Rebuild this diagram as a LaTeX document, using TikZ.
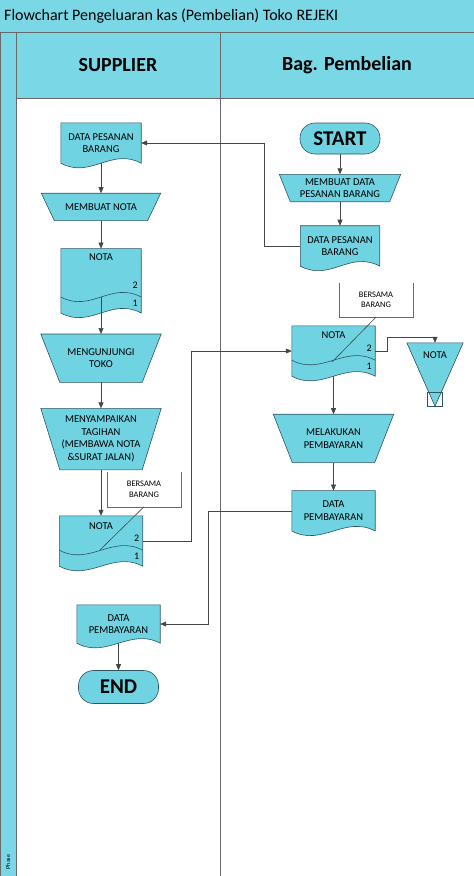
\documentclass[tikz,border=0pt]{standalone}
\usepackage{fontspec}
\setmainfont{Carlito}
\usetikzlibrary{positioning,calc,arrows.meta}
\pgfdeclarelayer{background}
\pgfsetlayers{background,main}

\definecolor{sianfill}{RGB}{112,211,226}
\definecolor{sianhead}{RGB}{122,216,230}
\definecolor{garis}{RGB}{45,85,100}
\definecolor{panah}{RGB}{70,70,70}
\definecolor{bingkai}{RGB}{105,105,105}

% dokumen dengan tepi bawah bergelombang
\newcommand{\dokumen}[1]{%
  \begin{pgfonlayer}{background}
    \filldraw[bentuk] (#1.north west) -- (#1.north east) -- (#1.south east)
      .. controls +(-30pt,16pt) and +(30pt,-16pt) .. (#1.south west) -- cycle;
  \end{pgfonlayer}}
% dokumen rangkap (2 lembar)
\newcommand{\dokganda}[1]{%
  \dokumen{#1}
  \draw[bentuk, fill=none] ($(#1.south west)+(0,16pt)$)
    .. controls +(30pt,-16pt) and +(-30pt,16pt) .. ($(#1.south east)+(0,16pt)$);
  \node[angka] (#1-2) at ($(#1.south east)+(-6pt,28pt)$) {2};
  \node[angka] (#1-1) at ($(#1.south east)+(-6pt,10pt)$) {1};}
% operasi manual
\newcommand{\opmanual}[2]{%
  \begin{pgfonlayer}{background}
    \filldraw[bentuk] (#1.north west) -- (#1.north east)
      -- ($(#1.south east)+(-#2pt,0)$) -- ($(#1.south west)+(#2pt,0)$) -- cycle;
  \end{pgfonlayer}}
% arsip (segitiga)
\newcommand{\arsip}[1]{%
  \filldraw[bentuk] (#1.north west) -- (#1.north east) -- (#1.south) -- cycle;
  \draw[bentuk, fill=none] ($(#1.south)+(-7.5pt,0)$) rectangle ($(#1.south)+(7.5pt,14pt)$);}
% keterangan (kurung terbuka)
\newcommand{\catatan}[1]{%
  \draw[bingkai] (#1.north west) -- (#1.south west) -- (#1.south east) -- (#1.north east);}

\begin{document}
\begin{tikzpicture}[x=1pt, y=-1pt,
    bentuk/.style={draw=garis, fill=sianfill, line width=0.6pt},
    teks/.style={font=\fontsize{10.5}{12.5}\selectfont, align=center, inner sep=0pt},
    dok/.style={teks, minimum width=80pt, minimum height=40pt},
    manop/.style={teks, minimum width=120pt, minimum height=48pt},
    terminal/.style={rectangle, rounded corners=15pt, draw=garis, fill=sianfill, line width=0.6pt,
      minimum width=80pt, minimum height=31pt, inner sep=0pt, font=\bfseries\fontsize{21}{24}\selectfont},
    angka/.style={font=\fontsize{10}{11}\selectfont, inner sep=0pt},
    ket/.style={font=\fontsize{8.5}{10.5}\selectfont, align=center, minimum width=74pt,
      minimum height=34pt, inner sep=0pt},
    panahgaris/.style={draw=panah, line width=0.6pt, -{Triangle[length=6pt,width=5pt]}},
    garisbiasa/.style={draw=panah, line width=0.6pt}]

\useasboundingbox (0,0) rectangle (474,876);

% bingkai dan judul
\fill[sianhead] (0,0) rectangle (474,32);
\filldraw[fill=sianhead, draw=bingkai] (0,32) rectangle (16,876);
\filldraw[fill=sianhead, draw=bingkai] (16,32) rectangle (474,98);
\draw[bingkai] (220,32) -- (220,876);
\node[anchor=west, inner sep=0pt, font=\fontsize{16}{18}\selectfont] (judul) at (4,16)
  {Flowchart Pengeluaran kas (Pembelian) Toko REJEKI};
\node[font=\bfseries\fontsize{20}{22}\selectfont] (supplier) at (118,65) {SUPPLIER};
\node[font=\bfseries\fontsize{20}{22}\selectfont] (pembelian) at (347,65) {Bag. Pembelian};
\node[rotate=90, font=\fontsize{6}{7}\selectfont, inner sep=0pt] (fase) at (8,862) {Phase};

% jalur supplier
\node[dok] (dpb1) at (101,143) {DATA PESANAN\\BARANG};
\node[manop, minimum width=119pt, minimum height=27pt, below=30pt of dpb1] (buatnota) {MEMBUAT NOTA};
\node[dok, minimum height=64pt, below=28pt of buatnota] (nota1) {};
\node[teks, below=5pt of nota1.north] (nota1t) {NOTA};
\node[manop, below=21pt of nota1] (kunjung) {MENGUNJUNGI\\TOKO};
\node[manop, minimum height=61pt, below=26pt of kunjung] (tagih)
  {MENYAMPAIKAN\\TAGIHAN\\(MEMBAWA NOTA\\\&SURAT JALAN)};
\node[dok, minimum width=83pt, minimum height=50pt, below=46pt of tagih] (nota2) {};
\node[teks, below=7pt of nota2.north] (nota2t) {NOTA};
\node[ket] (ket1) at (144,489.5) {BERSAMA\\BARANG};
\node[dok, minimum width=83pt, minimum height=38pt] (dpem1) at (118.5,624) {DATA\\PEMBAYARAN};
\node[terminal, minimum height=33pt, below=27pt of dpem1] (akhir) {END};

% jalur bag. pembelian
\node[terminal] (mulai) at (340,138.5) {START};
\node[manop, minimum width=121pt, minimum height=27pt, below=20pt of mulai] (buatdata)
  {MEMBUAT DATA\\PESANAN BARANG};
\node[dok, minimum width=79pt, below=24pt of buatdata] (dpb2) {DATA PESANAN\\BARANG};
\node[ket] (ket2) at (376,300) {BERSAMA\\BARANG};
\node[dok, minimum width=83pt, minimum height=50pt] (nota3) at (333.5,351) {};
\node[teks, below=6pt of nota3.north] (nota3t) {NOTA};
\node[teks, minimum width=56pt, minimum height=63pt] (simpan) at (435,374.5) {};
\node[teks, below=9pt of simpan.north] (simpant) {NOTA};
\node[manop, below=38pt of nota3] (bayar) {MELAKUKAN\\PEMBAYARAN};
\node[dok, minimum width=83pt, below=28pt of bayar] (dpem2) {DATA\\PEMBAYARAN};

% bentuk
\dokumen{dpb1}
\opmanual{buatnota}{13}
\dokganda{nota1}
\opmanual{kunjung}{19}
\opmanual{tagih}{19}
\dokganda{nota2}
\dokumen{dpem1}
\opmanual{buatdata}{11}
\dokumen{dpb2}
\dokganda{nota3}
\opmanual{bayar}{19}
\dokumen{dpem2}
\begin{pgfonlayer}{background}
  \arsip{simpan}
\end{pgfonlayer}
\catatan{ket1}
\catatan{ket2}

% panah jalur supplier
\draw[panahgaris] (dpb1.south) -- (buatnota.north);
\draw[panahgaris] (buatnota.south) -- (nota1.north);
\draw[panahgaris] (nota1.south) ++(0,16pt) -- (kunjung.north);
\draw[panahgaris] (kunjung.south) -- (tagih.north);
\draw[panahgaris] (tagih.south) -- (nota2.north);
\draw[panahgaris] (dpem1.south) -- (akhir.north);

% panah jalur pembelian
\draw[panahgaris] (mulai.south) -- (buatdata.north);
\draw[panahgaris] (buatdata.south) -- (dpb2.north);
\draw[panahgaris] (nota3.south) -- (bayar.north);
\draw[panahgaris] (bayar.south) -- (dpem2.north);
\draw[panahgaris] (nota3.east) -- ++(12pt,0) -- ++(0,14pt) -| (simpan.north);

% panah antar jalur
\draw[panahgaris] (dpb2.west) -- ++(-36pt,0) |- (dpb1.east);
\draw[panahgaris] (nota2.east) -- ++(49pt,0) |- (nota3.west);
\draw[panahgaris] (dpem2.west) -- ++(-84pt,0) |- (dpem1.east);

% garis keterangan
\coordinate (ujung1) at (100,550);
\coordinate (ujung2) at (332,362);
\draw[garisbiasa] (ket1.south) -- (ujung1);
\draw[garisbiasa] (ket2.south) -- (ujung2);

\end{tikzpicture}
\end{document}
